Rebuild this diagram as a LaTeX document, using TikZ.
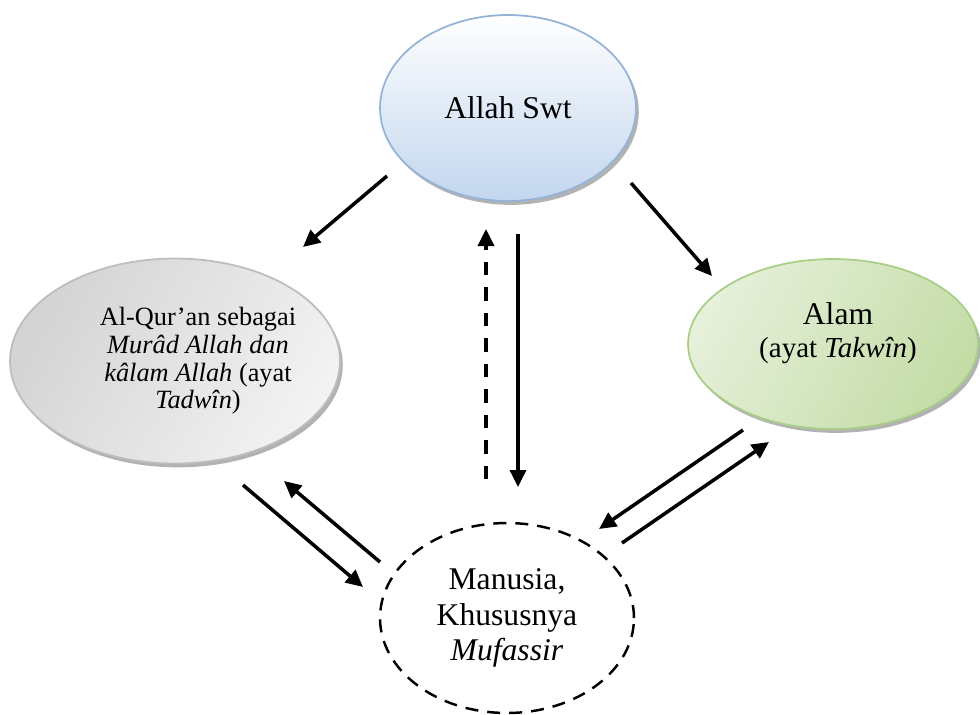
\documentclass[tikz,border=0pt]{standalone}
\usepackage{fontspec}
\setmainfont{Liberation Serif}
\usetikzlibrary{arrows.meta,shapes.geometric,shadows}

\definecolor{skyedge}{HTML}{95B3D7}
\definecolor{skyfill}{HTML}{C2D6EE}
\definecolor{stoneedge}{HTML}{BDBDBD}
\definecolor{leafedge}{HTML}{A8CF85}
\definecolor{leafdark}{HTML}{C4DCA6}
\definecolor{leaflight}{HTML}{E6F0DA}

\begin{document}
\begin{tikzpicture}[x=0.02cm,y=-0.02cm,>={Triangle[length=0.34cm,width=0.32cm]},
  bubble/.style={ellipse,inner sep=0pt,line width=1pt,
    drop shadow={shadow xshift=1.6pt,shadow yshift=-2.2pt,fill=black!55,opacity=0.55}},
  flow/.style={->,line width=2pt},
  big/.style={font=\fontsize{18}{20.4}\selectfont,align=center}]
\useasboundingbox (0,0) rectangle (980,714);

% the four ellipses
\node[bubble,draw=skyedge,top color=white,bottom color=skyfill,
  minimum width=5.12cm,minimum height=3.72cm,big] (allah) at (508,108) {Allah Swt};
\node[bubble,draw=stoneedge,left color=black!17,right color=black!5,shading angle=60,
  minimum width=6.6cm,minimum height=4.1cm] (quran) at (175,361) {};
\node[bubble,draw=leafedge,left color=leafdark,right color=leaflight,shading angle=240,
  minimum width=5.8cm,minimum height=3.4cm] (alam) at (833,344) {};
\node[ellipse,draw,line width=1.4pt,dash pattern=on 0.26cm off 0.18cm,inner sep=0pt,
  minimum width=5.08cm,minimum height=3.8cm,big] (manusia) at (507,618)
  {Manusia,\\Khususnya\\\textit{Mufassir}};

% texts inside
\node[font=\fontsize{15}{15.7}\selectfont,align=center] (qurantext) at (198,361)
  {Al-Qur’an sebagai\\\textit{Murâd Allah dan}\\\textit{kâlam Allah} (ayat\\\textit{Tadwîn})};
\node[font=\fontsize{18}{18.7}\selectfont,align=center] (alamtext) at (838,333)
  {Alam\\{\fontsize{16.5}{18.7}\selectfont(ayat \textit{Takwîn})}};

% arrow ends
\coordinate (aq1) at (387,176);  \coordinate (aq2) at (303,247);
\coordinate (aa1) at (631,183);  \coordinate (aa2) at (712,276);
\coordinate (up1) at (486,479);  \coordinate (up2) at (486,229);
\coordinate (dn1) at (518,234);  \coordinate (dn2) at (518,487);
\coordinate (qm1) at (243,485);  \coordinate (qm2) at (363,587);
\coordinate (mq1) at (380,562);  \coordinate (mq2) at (284,481);
\coordinate (am1) at (743,430);  \coordinate (am2) at (599,529);
\coordinate (ma1) at (622,543);  \coordinate (ma2) at (769,442);

\draw[flow] (aq1) -- (aq2);
\draw[flow] (aa1) -- (aa2);
\draw[flow,dash pattern=on 0.27cm off 0.24cm] (up1) -- (up2);
\draw[flow] (dn1) -- (dn2);
\draw[flow] (qm1) -- (qm2);
\draw[flow] (mq1) -- (mq2);
\draw[flow] (am1) -- (am2);
\draw[flow] (ma1) -- (ma2);
\end{tikzpicture}
\end{document}
